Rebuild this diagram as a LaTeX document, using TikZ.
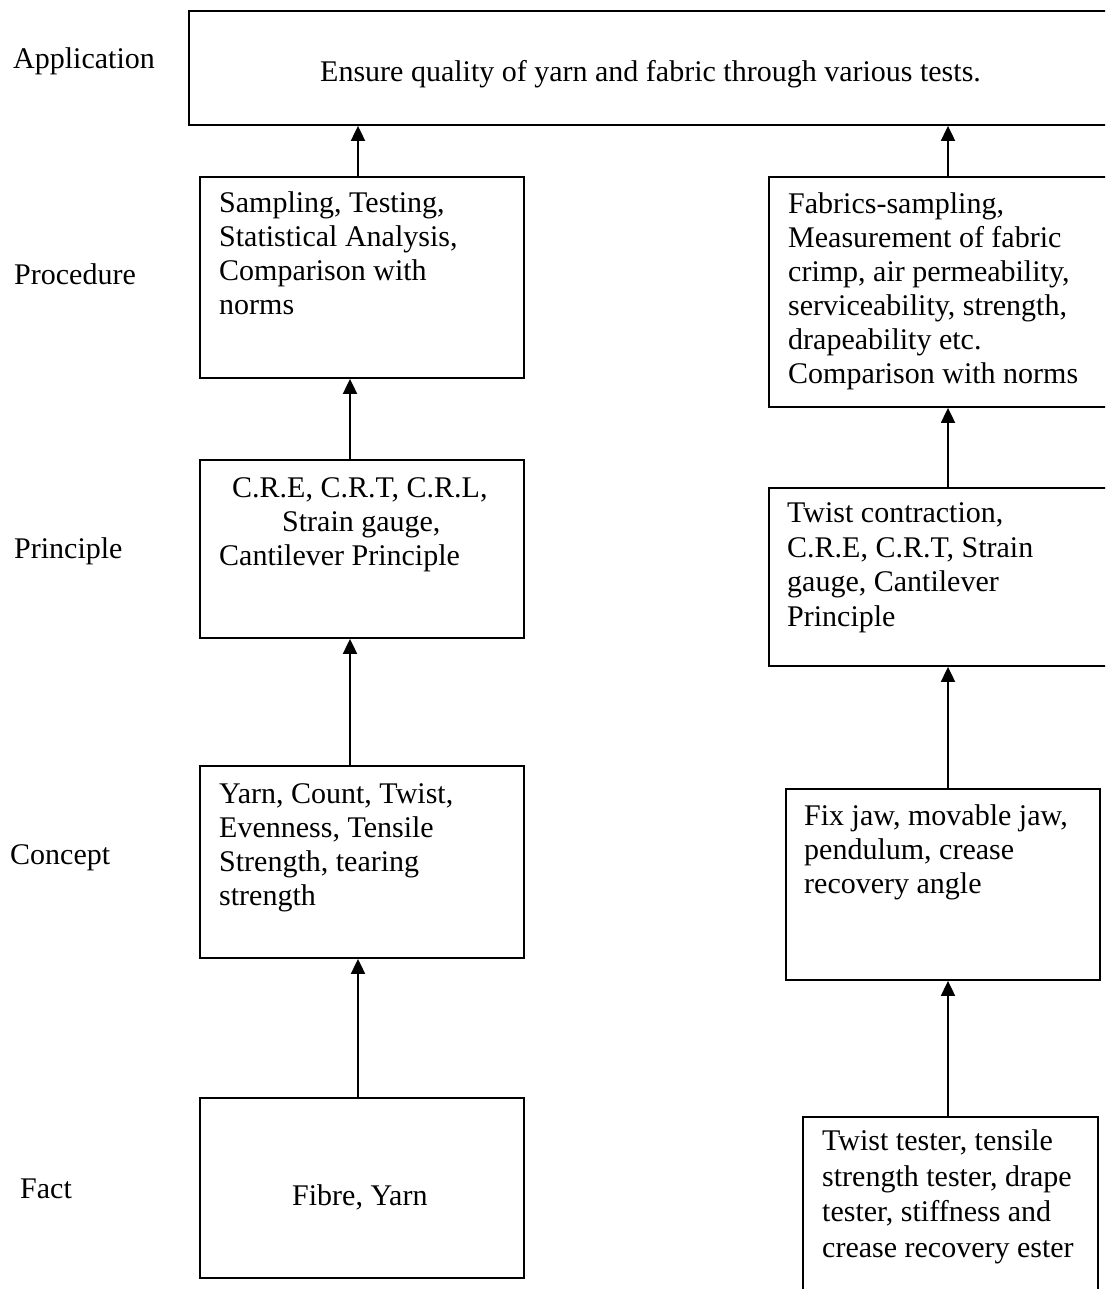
\documentclass[tikz,border=0pt]{standalone}
\usepackage{fontspec}
\setmainfont{Liberation Serif}
\usetikzlibrary{arrows.meta}
\begin{document}
\begin{tikzpicture}[x=1pt,y=-1pt,
  box/.style={draw, line width=1.9pt, inner sep=0pt, anchor=north west},
  txt/.style={anchor=base west, inner sep=0pt, align=left, font=\fontsize{30}{34}\selectfont},
  arr/.style={-{Triangle[width=14pt,length=15pt]}, line width=1.9pt}]
\useasboundingbox (0,0) rectangle (1105,1289);
\clip (0,0) rectangle (1105,1289);

% arrow columns
\coordinate (ax1) at (358,0);
\coordinate (ax2) at (350,0);
\coordinate (ax3) at (948,0);

% boxes
\node[box, minimum width=927pt, minimum height=114pt] (top) at (188,10) {};
\node[box, minimum width=324pt, minimum height=201pt] (lproc) at (199,176) {};
\node[box, minimum width=324pt, minimum height=178pt] (lprin) at (199,459) {};
\node[box, minimum width=324pt, minimum height=192pt] (lconc) at (199,765) {};
\node[box, minimum width=324pt, minimum height=180pt] (lfact) at (199,1097) {};
\node[box, minimum width=347pt, minimum height=230pt] (rproc) at (768,176) {};
\node[box, minimum width=347pt, minimum height=178pt] (rprin) at (768,487) {};
\node[box, minimum width=314pt, minimum height=191pt] (rconc) at (785,788) {};
\node[box, minimum width=295pt, minimum height=190pt] (rfact) at (802,1116) {};

% row labels
\node[txt] (lbApp) at (13,69) {Application};
\node[txt] (lbProc) at (14,284) {Procedure};
\node[txt] (lbPrin) at (14,558) {Principle};
\node[txt] (lbConc) at (10,864) {Concept};
\node[txt] (lbFact) at (20,1198) {Fact};

% box texts (anchor = baseline of the last line)
\node[txt] (tTop) at (320,82) {Ensure quality of yarn and fabric through various tests.};
\node[txt] (tLproc) at (219,314) {Sampling, Testing,\\Statistical Analysis,\\Comparison with\\norms};
\node[txt] (tLprin) at (219,565) {\hspace*{13pt}C.R.E, C.R.T, C.R.L,\\\hspace*{63pt}Strain gauge,\\Cantilever Principle};
\node[txt] (tLconc) at (219,905) {Yarn, Count, Twist,\\Evenness, Tensile\\Strength, tearing\\strength};
\node[txt] (tLfact) at (292,1205) {Fibre, Yarn};
\node[txt] (tRproc) at (788,383) {Fabrics-sampling,\\Measurement of fabric\\crimp, air permeability,\\serviceability, strength,\\drapeability etc.\\Comparison with norms};
\node[txt, font=\fontsize{30}{34.5}\selectfont] (tRprin) at (787,626) {Twist contraction,\\C.R.E, C.R.T, Strain\\gauge, Cantilever\\Principle};
\node[txt] (tRconc) at (804,893) {Fix jaw, movable jaw,\\pendulum, crease\\recovery angle};
\node[txt, font=\fontsize{30}{35.5}\selectfont] (tRfact) at (822,1257) {Twist tester, tensile\\strength tester, drape\\tester, stiffness and\\crease recovery ester};

% connectors
\draw[arr] (lfact.north -| ax1) -- (lconc.south -| ax1);
\draw[arr] (lconc.north -| ax2) -- (lprin.south -| ax2);
\draw[arr] (lprin.north -| ax2) -- (lproc.south -| ax2);
\draw[arr] (lproc.north -| ax1) -- (top.south -| ax1);
\draw[arr] (rfact.north -| ax3) -- (rconc.south -| ax3);
\draw[arr] (rconc.north -| ax3) -- (rprin.south -| ax3);
\draw[arr] (rprin.north -| ax3) -- (rproc.south -| ax3);
\draw[arr] (rproc.north -| ax3) -- (top.south -| ax3);
\end{tikzpicture}
\end{document}
